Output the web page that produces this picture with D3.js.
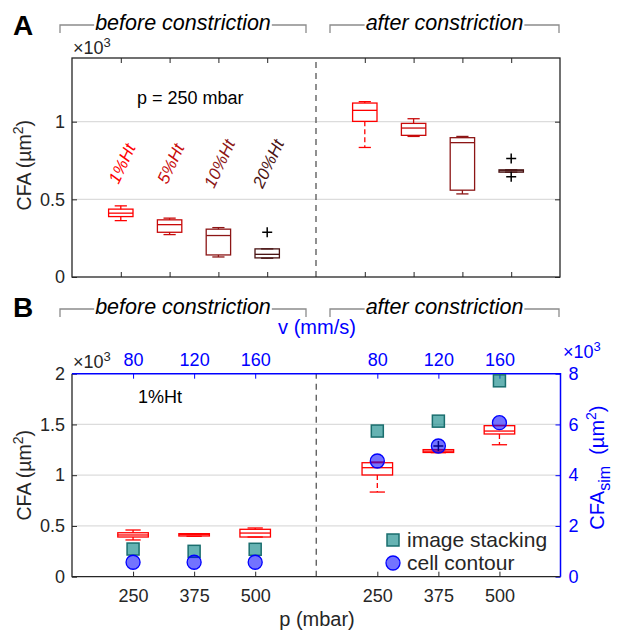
<!DOCTYPE html>
<html lang="en">
<head>
    <meta charset="UTF-8">
    <title>CFA before / after constriction</title>
    <script src="https://cdnjs.cloudflare.com/ajax/libs/d3/7.8.5/d3.min.js"></script>
    <style>
        body { margin: 0; background: white; }
        svg { display: block; font-family: "Liberation Sans", Arial, sans-serif; }
        .tick line { stroke: #262626; }
        .tick text { font-size: 18px; fill: #262626; font-family: "Liberation Sans", Arial, sans-serif; }
        .domain { display: none; }
    </style>
</head>
<body>
<div id="chart"></div>
<script>
    // ---- panel A: hematocrit series at p = 250 mbar (values x10^3 um^2)
    const htLabels = ['1%Ht', '5%Ht', '10%Ht', '20%Ht'];
    const htColors = ['#ff0000', '#c80a0a', '#8c1616', '#4a1414'];
    const beforeA = [
        {lo: 0.363, q1: 0.389, med: 0.411, q3: 0.437, hi: 0.458},
        {lo: 0.273, q1: 0.288, med: 0.337, q3: 0.368, hi: 0.379},
        {lo: 0.129, q1: 0.142, med: 0.267, q3: 0.308, hi: 0.318},
        {lo: 0.121, q1: 0.123, med: 0.146, q3: 0.181, hi: 0.181}
    ];
    const beforeAOut = [[], [], [], [0.288]];
    const afterA = [
        {lo: 0.834, q1: 1.002, med: 1.073, q3: 1.120, hi: 1.129},
        {lo: 0.905, q1: 0.912, med: 0.959, q3: 0.989, hi: 1.019},
        {lo: 0.535, q1: 0.559, med: 0.865, q3: 0.897, hi: 0.905},
        {lo: 0.675, q1: 0.675, med: 0.684, q3: 0.690, hi: 0.690}
    ];
    const afterAOut = [[], [], [], [0.763, 0.645]];

    // ---- panel B: 1%Ht at three pressures
    const pressures = ['250', '375', '500'];
    const velocities = ['80', '120', '160'];
    const beforeB = [
        {lo: 0.362, q1: 0.391, med: 0.411, q3: 0.433, hi: 0.460},
        {lo: 0.398, q1: 0.401, med: 0.414, q3: 0.424, hi: 0.424},
        {lo: 0.391, q1: 0.391, med: 0.430, q3: 0.467, hi: 0.480}
    ];
    const afterB = [
        {lo: 0.834, q1: 1.002, med: 1.074, q3: 1.123, hi: 1.130},
        {lo: 1.222, q1: 1.224, med: 1.237, q3: 1.252, hi: 1.252},
        {lo: 1.300, q1: 1.406, med: 1.435, q3: 1.488, hi: 1.490}
    ];
    const afterBOut = [[], [1.288], []];
    // simulated CFA (right axis, x10^3 um^2)
    const stackBefore = [1.09, 1.00, 1.08];
    const stackAfter = [5.74, 6.13, 7.72];
    const contourBefore = [0.57, 0.57, 0.57];
    const contourAfter = [4.56, 5.15, 6.07];

    const width = 620, height = 633;
    const svg = d3.select('#chart').append('svg').attr('width', width).attr('height', height);

    const ink = '#262626';
    const blue = '#0000ff';

    function drawBox(g, x, y, cx, s, color, w) {
        const b = g.append('g').attr('stroke', color).attr('stroke-width', 1.3).attr('fill', 'none');
        b.append('rect').attr('x', cx - w / 2).attr('y', y(s.q3))
            .attr('width', w).attr('height', Math.max(y(s.q1) - y(s.q3), 0.5));
        b.append('line').attr('x1', cx - w / 2).attr('x2', cx + w / 2)
            .attr('y1', y(s.med)).attr('y2', y(s.med));
        [[s.q3, s.hi], [s.q1, s.lo]].forEach(([a, e]) => {
            b.append('line').attr('x1', cx).attr('x2', cx).attr('y1', y(a)).attr('y2', y(e))
                .attr('stroke-dasharray', '5,3');
            b.append('line').attr('x1', cx - w / 4).attr('x2', cx + w / 4).attr('y1', y(e)).attr('y2', y(e));
        });
    }

    function drawOutliers(g, y, cx, vals) {
        vals.forEach(v => {
            g.append('path').attr('d', `M${cx - 5},${y(v)}H${cx + 5}M${cx},${y(v) - 5}V${y(v) + 5}`)
                .attr('stroke', '#000').attr('stroke-width', 1.5);
        });
    }

    function times10(g, x, y, color) {
        const t = g.append('text').attr('x', x).attr('y', y).attr('font-size', 18).attr('fill', color);
        t.append('tspan').text('\u00d710');
        t.append('tspan').attr('font-size', 13).attr('dy', -7).text('3');
    }

    function bracket(x0, x1, y, label) {
        const g = svg.append('g');
        const t = g.append('text').attr('x', (x0 + x1) / 2).attr('y', y + 5)
            .attr('text-anchor', 'middle').attr('font-size', 21.5).attr('font-style', 'italic')
            .attr('fill', '#000').text(label);
        const bb = t.node().getBBox();
        g.append('path')
            .attr('d', `M${x0},${y + 8}V${y}H${bb.x - 1}M${bb.x + bb.width + 1},${y}H${x1}V${y + 8}`)
            .attr('fill', 'none').attr('stroke', '#8c8c8c').attr('stroke-width', 1.3);
    }

    function cfaLabel(x, y) {
        const t = svg.append('text').attr('transform', `translate(${x},${y}) rotate(-90)`)
            .attr('text-anchor', 'middle').attr('font-size', 19.5).attr('fill', ink);
        t.append('tspan').text('CFA (\u00b5m');
        t.append('tspan').attr('font-size', 14).attr('dy', -8).text('2');
        t.append('tspan').attr('dy', 8).text(')');
    }

    // ================= Panel A =================
    const xA = d3.scaleLinear().domain([0, 10]).range([72, 560]);
    const yA = d3.scaleLinear().domain([0, 1.41]).range([277, 58]);
    const gA = svg.append('g');

    gA.selectAll('.gridA').data([0.5, 1]).enter().append('line')
        .attr('x1', xA(0)).attr('x2', xA(10)).attr('y1', d => yA(d)).attr('y2', d => yA(d))
        .attr('stroke', '#dcdcdc').attr('stroke-width', 1.3);

    const ticksA = [1, 2, 3, 4, 6, 7, 8, 9];
    gA.append('g').attr('transform', `translate(0,${yA(0)})`)
        .call(d3.axisBottom(xA).tickValues(ticksA).tickSize(-5).tickFormat(''));
    gA.append('g').attr('transform', `translate(0,${yA.range()[1]})`)
        .call(d3.axisTop(xA).tickValues(ticksA).tickSize(-5).tickFormat(''));
    gA.append('g').attr('transform', `translate(${xA(0)},0)`)
        .call(d3.axisLeft(yA).tickValues([0, 0.5, 1]).tickSize(-5).tickPadding(7).tickFormat(d => d));
    gA.append('g').attr('transform', `translate(${xA(10)},0)`)
        .call(d3.axisRight(yA).tickValues([0, 0.5, 1]).tickSize(-5).tickFormat(''));

    gA.append('line').attr('x1', xA(5)).attr('x2', xA(5)).attr('y1', yA(0)).attr('y2', yA.range()[1])
        .attr('stroke', '#555').attr('stroke-width', 1.3).attr('stroke-dasharray', '6,5');

    gA.append('rect').attr('x', xA(0)).attr('y', yA.range()[1])
        .attr('width', xA(10) - xA(0)).attr('height', yA(0) - yA.range()[1])
        .attr('fill', 'none').attr('stroke', ink).attr('stroke-width', 1.3);

    const wA = xA(0.5) - xA(0);
    beforeA.forEach((s, i) => {
        drawBox(gA, xA, yA, xA(i + 1), s, htColors[i], wA);
        drawOutliers(gA, yA, xA(i + 1), beforeAOut[i]);
    });
    afterA.forEach((s, i) => {
        drawBox(gA, xA, yA, xA(i + 6), s, htColors[i], wA);
        drawOutliers(gA, yA, xA(i + 6), afterAOut[i]);
    });

    gA.selectAll('.htlab').data(htLabels).enter().append('text')
        .attr('transform', (d, i) => `translate(${xA(i + 1) + 1},${yA(0.73)}) rotate(-65)`)
        .attr('text-anchor', 'middle').attr('dy', '0.35em').attr('font-size', 17)
        .attr('font-style', 'italic').attr('fill', (d, i) => htColors[i]).text(d => d);

    gA.append('text').attr('x', 137).attr('y', 104).attr('font-size', 18).attr('fill', '#000')
        .text('p = 250 mbar');
    times10(gA, 73, 54, ink);
    cfaLabel(31, yA(0.72));

    svg.append('text').attr('x', 13).attr('y', 35).attr('font-size', 28).attr('font-weight', 'bold').text('A');
    bracket(60, 306, 25, 'before constriction');
    bracket(330, 559, 25, 'after constriction');

    // ================= Panel B =================
    const xB = d3.scaleLinear().domain([0, 8]).range([72, 560.5]);
    const yB = d3.scaleLinear().domain([0, 2]).range([576.7, 373.7]);
    const yB2 = d3.scaleLinear().domain([0, 8]).range(yB.range());
    const gB = svg.append('g');
    const posB = [1, 2, 3, 5, 6, 7];

    gB.selectAll('.gridB').data([0.5, 1, 1.5]).enter().append('line')
        .attr('x1', xB(0)).attr('x2', xB(8)).attr('y1', d => yB(d)).attr('y2', d => yB(d))
        .attr('stroke', '#dcdcdc').attr('stroke-width', 1.3);

    gB.append('g').attr('transform', `translate(0,${yB(0)})`)
        .call(d3.axisBottom(xB).tickValues(posB).tickSize(-5).tickPadding(13)
            .tickFormat((d, i) => pressures[i % 3]));
    const topAxis = gB.append('g').attr('transform', `translate(0,${yB(2)})`)
        .call(d3.axisTop(xB).tickValues(posB).tickSize(-5).tickPadding(8)
            .tickFormat((d, i) => velocities[i % 3]));
    topAxis.selectAll('line').style('stroke', blue);
    topAxis.selectAll('text').style('fill', blue);
    gB.append('g').attr('transform', `translate(${xB(0)},0)`)
        .call(d3.axisLeft(yB).tickValues([0, 0.5, 1, 1.5, 2]).tickSize(-5).tickPadding(7).tickFormat(d => d));
    const rightAxis = gB.append('g').attr('transform', `translate(${xB(8)},0)`)
        .call(d3.axisRight(yB2).tickValues([0, 2, 4, 6, 8]).tickSize(-5).tickPadding(8));
    rightAxis.selectAll('line').style('stroke', blue);
    rightAxis.selectAll('text').style('fill', blue);

    gB.append('line').attr('x1', xB(4)).attr('x2', xB(4)).attr('y1', yB(0)).attr('y2', yB(2))
        .attr('stroke', '#555').attr('stroke-width', 1.3).attr('stroke-dasharray', '6,5');

    // frame: black left/bottom, blue top/right
    gB.append('path').attr('d', `M${xB(0)},${yB(2)}V${yB(0)}H${xB(8)}`)
        .attr('fill', 'none').attr('stroke', ink).attr('stroke-width', 1.3);
    gB.append('path').attr('d', `M${xB(0)},${yB(2)}H${xB(8)}V${yB(0)}`)
        .attr('fill', 'none').attr('stroke', blue).attr('stroke-width', 1.5);

    const wB = xB(0.5) - xB(0);
    beforeB.forEach((s, i) => drawBox(gB, xB, yB, xB(posB[i]), s, '#ff0000', wB));
    afterB.forEach((s, i) => {
        drawBox(gB, xB, yB, xB(posB[i + 3]), s, '#ff0000', wB);
        drawOutliers(gB, yB, xB(posB[i + 3]), afterBOut[i]);
    });

    const stackPts = stackBefore.map((v, i) => ({x: posB[i], v}))
        .concat(stackAfter.map((v, i) => ({x: posB[i + 3], v})));
    const contourPts = contourBefore.map((v, i) => ({x: posB[i], v}))
        .concat(contourAfter.map((v, i) => ({x: posB[i + 3], v})));

    gB.selectAll('.sq').data(stackPts).enter().append('rect')
        .attr('x', d => xB(d.x) - 6).attr('y', d => yB2(d.v) - 6).attr('width', 12).attr('height', 12)
        .attr('fill', 'rgba(0,128,128,0.6)').attr('stroke', '#1a6e6e').attr('stroke-width', 1.5);
    gB.selectAll('.ci').data(contourPts).enter().append('circle')
        .attr('cx', d => xB(d.x)).attr('cy', d => yB2(d.v)).attr('r', 7)
        .attr('fill', 'rgba(0,0,255,0.55)').attr('stroke', blue).attr('stroke-width', 1.3);

    // legend
    const lg = gB.append('g');
    lg.append('rect').attr('x', 387).attr('y', 534).attr('width', 12).attr('height', 12)
        .attr('fill', 'rgba(0,128,128,0.6)').attr('stroke', '#1a6e6e').attr('stroke-width', 1.5);
    lg.append('circle').attr('cx', 393).attr('cy', 563).attr('r', 7)
        .attr('fill', 'rgba(0,0,255,0.55)').attr('stroke', blue).attr('stroke-width', 1.3);
    lg.append('text').attr('x', 407).attr('y', 547).attr('font-size', 21).attr('fill', ink).text('image stacking');
    lg.append('text').attr('x', 407).attr('y', 570).attr('font-size', 21).attr('fill', ink).text('cell contour');

    gB.append('text').attr('x', 138).attr('y', 403).attr('font-size', 18).attr('fill', '#000').text('1%Ht');
    gB.append('text').attr('x', 317).attr('y', 626).attr('text-anchor', 'middle').attr('font-size', 20)
        .attr('fill', ink).text('p (mbar)');
    gB.append('text').attr('x', 317).attr('y', 334).attr('text-anchor', 'middle').attr('font-size', 20)
        .attr('fill', blue).text('v (mm/s)');
    times10(gB, 73, 368, ink);
    times10(gB, 563, 358, blue);
    cfaLabel(31, yB(1));

    const rl = gB.append('text').attr('transform', `translate(604,${yB2(4.3)}) rotate(-90)`)
        .attr('text-anchor', 'middle').attr('font-size', 20).attr('fill', blue);
    rl.append('tspan').text('CFA');
    rl.append('tspan').attr('font-size', 16).attr('dy', 6).text('sim');
    rl.append('tspan').attr('dy', -6).text('\u00a0\u00a0(\u00b5m');
    rl.append('tspan').attr('font-size', 14).attr('dy', -8).text('2');
    rl.append('tspan').attr('dy', 8).text(')');

    svg.append('text').attr('x', 13).attr('y', 317).attr('font-size', 28).attr('font-weight', 'bold').text('B');
    bracket(60, 306, 309, 'before constriction');
    bracket(330, 559, 309, 'after constriction');
</script>
</body>
</html>
